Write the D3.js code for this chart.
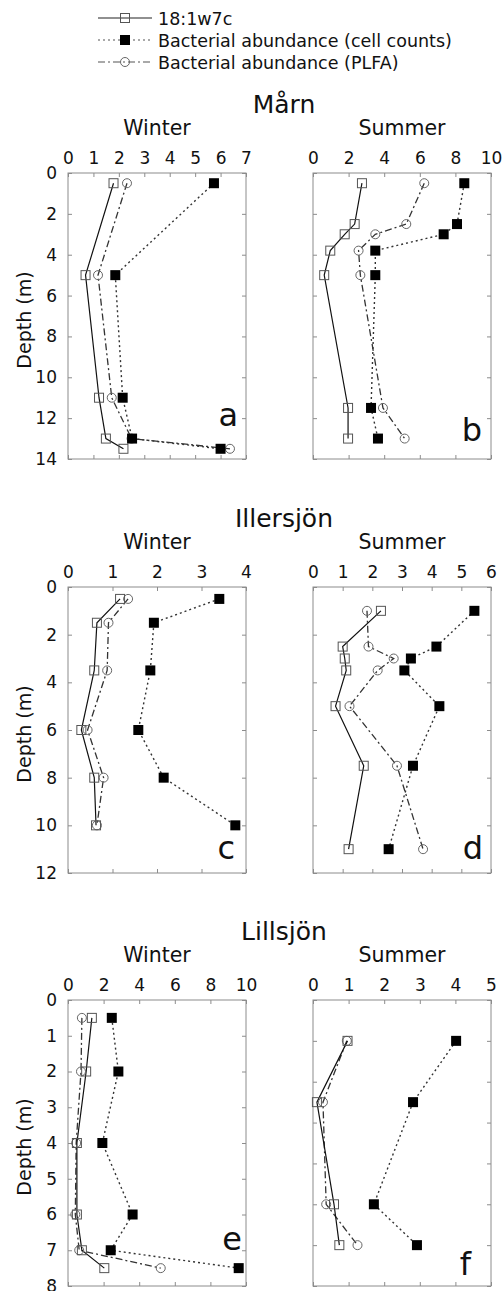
<!DOCTYPE html>
<html>
<head>
<meta charset="utf-8">
<script src="https://cdn.jsdelivr.net/npm/d3@7"></script>
<style>
  body { margin: 0; background: #fff; }
  svg { font-family: "DejaVu Sans", sans-serif; }
</style>
</head>
<body>
<svg id="chart" width="503" height="1291"></svg>
<script>
// series names
const seriesNames = ["18:1w7c", "Bacterial abundance (cell counts)", "Bacterial abundance (PLFA)"];

// Mårn, winter
const marnWDepth = [0.5, 5, 11, 13, 13.5];
const marnWFa    = [1.79, 0.69, 1.22, 1.49, 2.18];
const marnWCells = [5.74, 1.86, 2.15, 2.52, 6.0];
const marnWPlfa  = [2.32, 1.18, 1.72, 2.5, 6.37];

// Mårn, summer
const marnSDepth = [0.5, 2.5, 3, 3.8, 5, 11.5, 13];
const marnSFa    = [2.75, 2.34, 1.78, 0.97, 0.63, 1.97, 1.97];
const marnSCells = [8.5, 8.09, 7.34, 3.5, 3.5, 3.26, 3.65];
const marnSPlfa  = [6.25, 5.24, 3.5, 2.56, 2.66, 3.93, 5.15];

// Illersjön, winter
const illWDepth = [0.5, 1.5, 3.5, 6, 8, 10];
const illWFa    = [1.17, 0.65, 0.59, 0.30, 0.59, 0.63];
const illWCells = [3.4, 1.93, 1.85, 1.58, 2.15, 3.76];
const illWPlfa  = [1.35, 0.91, 0.88, 0.44, 0.80, 0.65];

// Illersjön, summer
const illSDepth = [1, 2.5, 3, 3.5, 5, 7.5, 11];
const illSFa    = [2.29, 1.0, 1.07, 1.12, 0.76, 1.71, 1.2];
const illSCells = [5.44, 4.16, 3.30, 3.08, 4.26, 3.37, 2.55];
const illSPlfa  = [1.82, 1.87, 2.72, 2.18, 1.23, 2.83, 3.71];

// Lillsjön, winter
const lilWDepth = [0.5, 2, 4, 6, 7, 7.5];
const lilWFa    = [1.34, 1.02, 0.5, 0.5, 0.78, 2.04];
const lilWCells = [2.46, 2.83, 1.93, 3.63, 2.4, 9.59];
const lilWPlfa  = [0.78, 0.73, 0.46, 0.41, 0.63, 5.21];

// Lillsjön, summer
const lilSDepth = [1, 2.5, 5, 6];
const lilSFa    = [0.97, 0.11, 0.59, 0.74];
const lilSCells = [4.02, 2.81, 1.71, 2.92];
const lilSPlfa  = [0.95, 0.28, 0.37, 1.25];

// tick values
const xTicksA = [0, 1, 2, 3, 4, 5, 6, 7];
const xTicksB = [0, 2, 4, 6, 8, 10];
const xTicksC = [0, 1, 2, 3, 4];
const xTicksD = [0, 1, 2, 3, 4, 5, 6];
const xTicksE = [0, 2, 4, 6, 8, 10];
const xTicksF = [0, 1, 2, 3, 4, 5];
const yTicks14 = [0, 2, 4, 6, 8, 10, 12, 14];
const yTicks12 = [0, 2, 4, 6, 8, 10, 12];
const yTicks8  = [0, 1, 2, 3, 4, 5, 6, 7, 8];
const yTicks7  = [0, 1, 2, 3, 4, 5, 6, 7];

const lakes = ["Mårn", "Illersjön", "Lillsjön"];
const seasons = ["Winter", "Summer"];

const LEFT_X = [68, 246];
const RIGHT_X = [313, 491];
const ROW_Y = [[173, 459], [587, 873], [1000, 1286]];

const panels = [
  { id: "a", row: 0, col: 0, depth: marnWDepth, fa: marnWFa, cells: marnWCells, plfa: marnWPlfa,
    xMax: 7, yMax: 14, xTicks: xTicksA, yTicks: yTicks14, letterDx: -8, letterDy: -33 },
  { id: "b", row: 0, col: 1, depth: marnSDepth, fa: marnSFa, cells: marnSCells, plfa: marnSPlfa,
    xMax: 10, yMax: 14, xTicks: xTicksB, yTicks: yTicks14, letterDx: -9, letterDy: -18 },
  { id: "c", row: 1, col: 0, depth: illWDepth, fa: illWFa, cells: illWCells, plfa: illWPlfa,
    xMax: 4, yMax: 12, xTicks: xTicksC, yTicks: yTicks12, letterDx: -11, letterDy: -14 },
  { id: "d", row: 1, col: 1, depth: illSDepth, fa: illSFa, cells: illSCells, plfa: illSPlfa,
    xMax: 6, yMax: 12, xTicks: xTicksD, yTicks: yTicks12, letterDx: -8, letterDy: -14 },
  { id: "e", row: 2, col: 0, depth: lilWDepth, fa: lilWFa, cells: lilWCells, plfa: lilWPlfa,
    xMax: 10, yMax: 8, xTicks: xTicksE, yTicks: yTicks8, letterDx: -4, letterDy: -36 },
  { id: "f", row: 2, col: 1, depth: lilSDepth, fa: lilSFa, cells: lilSCells, plfa: lilSPlfa,
    xMax: 5, yMax: 7, xTicks: xTicksF, yTicks: yTicks7, letterDx: -20, letterDy: -11 }
];

const DOTTED = "2,3";
const DASHDOT = "7,3,2,3";
const BOX = "#8c8c8c";
const fmt = d3.format("d");

const svg = d3.select("#chart");

// legend
const legend = svg.append("g");
const legendStyles = [
  { dash: null, marker: "open" },
  { dash: DOTTED, marker: "filled" },
  { dash: DASHDOT, marker: "circle" }
];
seriesNames.forEach((name, i) => {
  const cy = 18 + i * 22;
  legend.append("line")
    .attr("x1", 98).attr("x2", 152).attr("y1", cy).attr("y2", cy)
    .attr("stroke", i == 0 ? "#222" : "#555").attr("stroke-width", 1.1)
    .attr("stroke-dasharray", legendStyles[i].dash);
  drawMarker(legend, legendStyles[i].marker, 125, cy);
  legend.append("text")
    .attr("x", 158).attr("y", cy + 7)
    .style("font-size", "17.5px")
    .attr("fill", "#111")
    .text(name);
});

function drawMarker(g, kind, cx, cy) {
  if (kind == "open") {
    g.append("rect").attr("x", cx - 4.5).attr("y", cy - 4.5).attr("width", 9).attr("height", 9)
      .attr("fill", "none").attr("stroke", "#555").attr("stroke-width", 1);
  } else if (kind == "filled") {
    g.append("rect").attr("x", cx - 5).attr("y", cy - 5).attr("width", 10).attr("height", 10)
      .attr("fill", "#000");
  } else {
    g.append("circle").attr("cx", cx).attr("cy", cy).attr("r", 4.5)
      .attr("fill", "none").attr("stroke", "#666").attr("stroke-width", 1);
  }
}

// lake titles and season labels
lakes.forEach((lake, r) => {
  svg.append("text")
    .attr("x", 284).attr("y", ROW_Y[r][0] - 60)
    .attr("text-anchor", "middle")
    .style("font-size", "25px")
    .attr("fill", "#111")
    .text(lake);
  seasons.forEach((s, c) => {
    const xr = c == 0 ? LEFT_X : RIGHT_X;
    svg.append("text")
      .attr("x", (xr[0] + xr[1]) / 2).attr("y", ROW_Y[r][0] - 38)
      .attr("text-anchor", "middle")
      .style("font-size", "20.5px")
      .attr("fill", "#111")
      .text(s);
  });
  svg.append("text")
    .attr("transform", "translate(31," + ((ROW_Y[r][0] + ROW_Y[r][1]) / 2 + 4) + ") rotate(-90)")
    .attr("text-anchor", "middle")
    .style("font-size", "19px")
    .attr("fill", "#111")
    .text("Depth (m)");
});

panels.forEach(p => {
  const xr = p.col == 0 ? LEFT_X : RIGHT_X;
  const yr = ROW_Y[p.row];

  const x = d3.scaleLinear().domain([0, p.xMax]).range(xr);
  const y = d3.scaleLinear().domain([0, p.yMax]).range(yr);

  const g = svg.append("g");

  // top axis carries the value labels, the other three sides only inward ticks
  const top = g.append("g")
    .attr("transform", "translate(0," + yr[0] + ")")
    .call(d3.axisTop(x).tickValues(p.xTicks).tickSize(-4).tickPadding(9).tickFormat(fmt));
  const bottom = g.append("g")
    .attr("transform", "translate(0," + yr[1] + ")")
    .call(d3.axisBottom(x).tickValues(p.xTicks).tickSize(-4).tickFormat(""));
  const left = g.append("g")
    .attr("transform", "translate(" + xr[0] + ",0)")
    .call(d3.axisLeft(y).tickValues(p.yTicks).tickSize(-4).tickPadding(11)
      .tickFormat(p.col == 0 ? fmt : ""));
  const right = g.append("g")
    .attr("transform", "translate(" + xr[1] + ",0)")
    .call(d3.axisRight(y).tickValues(p.yTicks).tickSize(-4).tickFormat(""));

  [top, bottom, left, right].forEach(a => {
    a.attr("font-family", null).attr("font-size", null);
    a.select(".domain").remove();
    a.selectAll(".tick line").attr("stroke", BOX);
    a.selectAll(".tick text").style("font-size", "17px").attr("fill", "#111");
  });

  g.append("rect")
    .attr("x", xr[0]).attr("y", yr[0])
    .attr("width", xr[1] - xr[0]).attr("height", yr[1] - yr[0])
    .attr("fill", "none").attr("stroke", BOX).attr("stroke-width", 1);

  const pts = key => p.depth.map((d, i) => ({ depth: d, v: p[key][i] }));
  const line = d3.line().x(d => x(d.v)).y(d => y(d.depth));

  g.append("path").attr("d", line(pts("cells")))
    .attr("fill", "none").attr("stroke", "#333").attr("stroke-width", 1.4)
    .attr("stroke-dasharray", DOTTED);
  g.append("path").attr("d", line(pts("plfa")))
    .attr("fill", "none").attr("stroke", "#333").attr("stroke-width", 1.3)
    .attr("stroke-dasharray", DASHDOT);
  g.append("path").attr("d", line(pts("fa")))
    .attr("fill", "none").attr("stroke", "#111").attr("stroke-width", 1.2);

  pts("plfa").forEach(d => drawMarker(g, "circle", x(d.v), y(d.depth)));
  pts("fa").forEach(d => drawMarker(g, "open", x(d.v), y(d.depth)));
  pts("cells").forEach(d => drawMarker(g, "filled", x(d.v), y(d.depth)));

  g.append("text")
    .attr("x", xr[1] + p.letterDx).attr("y", yr[1] + p.letterDy)
    .attr("text-anchor", "end")
    .style("font-size", "32px")
    .attr("fill", "#111")
    .text(p.id);
});
</script>
</body>
</html>
